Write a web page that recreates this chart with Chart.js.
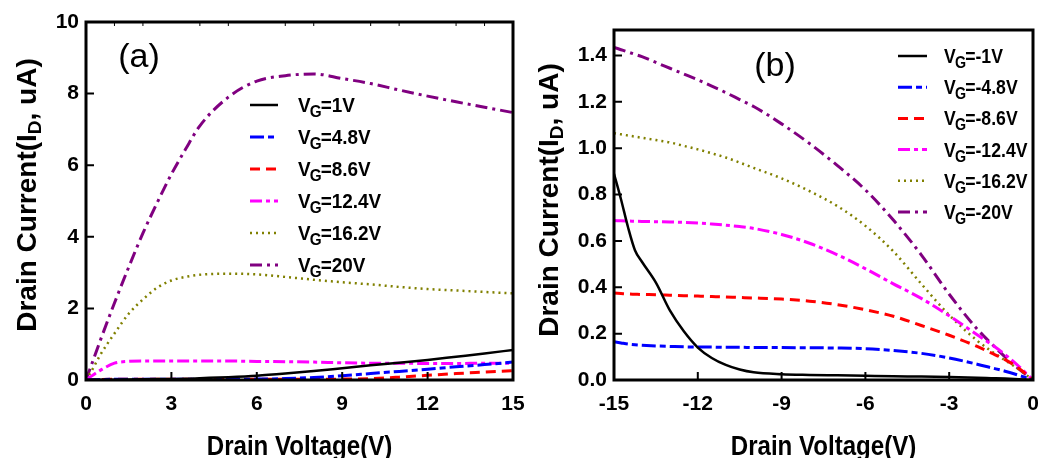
<!DOCTYPE html>
<html>
<head>
<meta charset="utf-8">
<script src="https://cdn.jsdelivr.net/npm/chart.js@4.4.0/dist/chart.umd.min.js"></script>
<style>
	body { margin: 0; background: #fff; }
	#wrap { position: relative; width: 1038px; height: 458px; overflow: hidden; }
	#chartA { position: absolute; left: 0; top: 0; }
	#chartB { position: absolute; left: 520px; top: 0; }
</style>
</head>
<body>
<div id="wrap">
	<canvas id="chartA" width="545" height="458"></canvas>
	<canvas id="chartB" width="518" height="458"></canvas>
</div>
<script>
// panel (a): drain voltage (V) and drain current (uA) for each gate voltage
var drainA = [0, 0.25, 0.5, 1, 1.5, 2, 2.5, 3, 3.5, 4, 5, 6, 7, 8, 9, 10, 11, 12, 13, 14, 15];
var idA_1 = [0, 0.005, 0.008, 0.01, 0.015, 0.02, 0.025, 0.03, 0.035, 0.05, 0.08, 0.12, 0.18, 0.25, 0.33, 0.41, 0.48, 0.56, 0.65, 0.74, 0.84];
var idA_4_8 = [0, 0.01, 0.015, 0.02, 0.02, 0.02, 0.02, 0.02, 0.02, 0.02, 0.02, 0.025, 0.04, 0.07, 0.12, 0.18, 0.24, 0.3, 0.37, 0.43, 0.5];
var idA_8_6 = [0, 0.01, 0.015, 0.02, 0.02, 0.02, 0.02, 0.02, 0.02, 0.02, 0.02, 0.02, 0.02, 0.02, 0.025, 0.04, 0.08, 0.13, 0.18, 0.22, 0.26];
var idA_12_4 = [0, 0.14, 0.27, 0.47, 0.52, 0.53, 0.53, 0.53, 0.53, 0.53, 0.53, 0.52, 0.51, 0.5, 0.48, 0.47, 0.47, 0.46, 0.46, 0.47, 0.47];
var idA_16_2 = [0, 0.33, 0.7, 1.3, 1.85, 2.25, 2.58, 2.78, 2.88, 2.94, 2.97, 2.95, 2.88, 2.8, 2.73, 2.67, 2.6, 2.54, 2.5, 2.46, 2.42];
var idA_20 = [0, 0.55, 1.1, 2.15, 3.15, 4.1, 4.95, 5.75, 6.45, 7.1, 7.9, 8.35, 8.5, 8.55, 8.42, 8.28, 8.1, 7.93, 7.77, 7.62, 7.47];
var gateA = ['1V', '4.8V', '8.6V', '12.4V', '16.2V', '20V'];

// panel (b): negative drain voltages
var drainB = [-15, -14.75, -14.5, -14.25, -14, -13.5, -13, -12.5, -12, -11.5, -11, -10.5, -10, -9, -8, -7, -6, -5, -4, -3, -2, -1.5, -1, -0.5, 0];
var idB_1 = [0.89, 0.78, 0.66, 0.56, 0.51, 0.42, 0.3, 0.21, 0.14, 0.095, 0.065, 0.045, 0.033, 0.025, 0.022, 0.02, 0.018, 0.016, 0.015, 0.013, 0.01, 0.008, 0.006, 0.003, 0];
var idB_4_8 = [0.165, 0.16, 0.155, 0.152, 0.15, 0.147, 0.145, 0.143, 0.142, 0.142, 0.141, 0.141, 0.14, 0.14, 0.139, 0.138, 0.135, 0.127, 0.115, 0.095, 0.068, 0.053, 0.038, 0.02, 0];
var idB_8_6 = [0.375, 0.373, 0.371, 0.37, 0.369, 0.368, 0.366, 0.364, 0.362, 0.36, 0.358, 0.356, 0.354, 0.349, 0.34, 0.325, 0.303, 0.275, 0.235, 0.193, 0.145, 0.117, 0.088, 0.05, 0];
var idB_12_4 = [0.688, 0.687, 0.686, 0.685, 0.684, 0.683, 0.682, 0.68, 0.677, 0.673, 0.668, 0.662, 0.654, 0.628, 0.59, 0.54, 0.48, 0.415, 0.352, 0.277, 0.195, 0.155, 0.11, 0.058, 0];
var idB_16_2 = [1.065, 1.06, 1.055, 1.05, 1.045, 1.035, 1.025, 1.01, 0.995, 0.978, 0.96, 0.938, 0.915, 0.87, 0.815, 0.75, 0.665, 0.555, 0.415, 0.28, 0.17, 0.125, 0.085, 0.045, 0];
var idB_20 = [1.435, 1.425, 1.415, 1.405, 1.395, 1.37, 1.345, 1.32, 1.295, 1.268, 1.24, 1.21, 1.18, 1.105, 1.02, 0.925, 0.82, 0.69, 0.54, 0.37, 0.22, 0.158, 0.1, 0.047, 0];
var gateB = ['-1V', '-4.8V', '-8.6V', '-12.4V', '-16.2V', '-20V'];

var styles = [
	{ color: '#000000', width: 2.5, dash: [] },
	{ color: '#0000ff', width: 3, dash: [14, 4, 6, 4] },
	{ color: '#ff0000', width: 3, dash: [10, 6] },
	{ color: '#ff00ff', width: 3, dash: [12, 4, 4, 4] },
	{ color: '#808000', width: 2.5, dash: [2, 4] },
	{ color: '#800080', width: 3, dash: [12, 5, 3, 5] }
];

var FONT = '"Liberation Sans", Arial, sans-serif';

var panelPlugin = {
	id: 'panel',
	afterDraw: function (chart, args, o) {
		var ctx = chart.ctx, a = chart.chartArea;
		var xs = chart.scales.x, ys = chart.scales.y;
		ctx.save();
		ctx.strokeStyle = '#000';
		ctx.fillStyle = '#000';

		// inward ticks
		ctx.lineWidth = 2;
		ctx.beginPath();
		xs.ticks.forEach(function (t) {
			var px = xs.getPixelForValue(t.value);
			ctx.moveTo(px, a.bottom); ctx.lineTo(px, a.bottom - 8);
		});
		ys.ticks.forEach(function (t) {
			var py = ys.getPixelForValue(t.value);
			ctx.moveTo(a.left, py); ctx.lineTo(a.left + 8, py);
		});
		ctx.stroke();
		if (o.topMinor) {
			ctx.lineWidth = 1;
			ctx.beginPath();
			for (var v = xs.min + 1; v < xs.max; v++) {
				if (v % 3 === 0) continue;
				var px = xs.getPixelForValue(v);
				ctx.moveTo(px, a.top); ctx.lineTo(px, a.top + 4);
			}
			ctx.stroke();
		}

		// frame
		ctx.lineWidth = 3;
		ctx.strokeRect(a.left, a.top, a.right - a.left, a.bottom - a.top);

		// panel label
		ctx.font = '34px ' + FONT;
		ctx.textAlign = 'center';
		ctx.textBaseline = 'middle';
		ctx.fillText(o.label, o.labelX, o.labelY);

		// x title
		ctx.font = 'bold 28px ' + FONT;
		ctx.textBaseline = 'alphabetic';
		ctx.save();
		ctx.translate((a.left + a.right) / 2, o.xTitleY);
		ctx.scale(0.86, 1);
		ctx.fillText('Drain Voltage(V)', 0, 0);
		ctx.restore();

		// y title with subscript
		ctx.save();
		ctx.translate(o.yTitleX, o.yTitleY);
		ctx.rotate(-Math.PI / 2);
		ctx.textAlign = 'left';
		var big = 'bold 28px ' + FONT, small = 'bold 19px ' + FONT;
		ctx.font = big;
		var w1 = ctx.measureText('Drain Current(I').width;
		var w3 = ctx.measureText(', uA)').width;
		ctx.font = small;
		var w2 = ctx.measureText('D').width;
		var x0 = -(w1 + w2 + w3) / 2;
		ctx.font = big;
		ctx.fillText('Drain Current(I', x0, 0);
		ctx.font = small;
		ctx.fillText('D', x0 + w1, 5);
		ctx.font = big;
		ctx.fillText(', uA)', x0 + w1 + w2, 0);
		ctx.restore();

		// legend
		chart.data.datasets.forEach(function (ds, i) {
			var y = o.legY + i * o.legStep;
			ctx.lineWidth = ds.borderWidth;
			ctx.strokeStyle = ds.borderColor;
			ctx.setLineDash(ds.borderDash);
			ctx.beginPath();
			ctx.moveTo(o.legX0, y); ctx.lineTo(o.legX1, y);
			ctx.stroke();
			ctx.setLineDash([]);
			ctx.save();
			ctx.translate(o.legTx, 0);
			ctx.scale(o.legScale, 1);
			ctx.textAlign = 'left';
			ctx.textBaseline = 'alphabetic';
			var tx = 0;
			ctx.font = 'bold 21px ' + FONT;
			ctx.fillText('V', tx, y + 7);
			tx += ctx.measureText('V').width - 1;
			ctx.font = 'bold 17px ' + FONT;
			ctx.fillText('G', tx, y + 12);
			tx += ctx.measureText('G').width - 1;
			ctx.font = 'bold 21px ' + FONT;
			ctx.fillText('=' + ds.label, tx, y + 7);
			ctx.restore();
		});
		ctx.restore();
	}
};

function makeDatasets(volts, series, names) {
	return series.map(function (vals, i) {
		return {
			label: names[i],
			data: volts.map(function (v, j) { return { x: v, y: vals[j] }; }),
			borderColor: styles[i].color,
			borderWidth: styles[i].width,
			borderDash: styles[i].dash,
			pointRadius: 0,
			fill: false,
			cubicInterpolationMode: 'monotone'
		};
	});
}

function tickFont() {
	return { family: FONT, size: 21, weight: 'bold' };
}

function makeChart(id, datasets, xr, yr, pad, yWidth, panel) {
	var ctx = document.getElementById(id).getContext('2d');
	return new Chart(ctx, {
		type: 'line',
		data: { datasets: datasets },
		options: {
			responsive: false,
			animation: false,
			layout: { padding: pad },
			plugins: { legend: { display: false }, tooltip: { enabled: false }, panel: panel },
			scales: {
				x: {
					type: 'linear', min: xr[0], max: xr[1],
					grid: { display: false, drawTicks: false }, border: { display: false },
					ticks: { stepSize: xr[2], padding: 12, color: '#000', font: tickFont(), maxRotation: 0, autoSkip: false,
						callback: function (v) { return String(v); } },
					afterFit: function (s) { s.height = 78; s.paddingLeft = 0; s.paddingRight = 0; }
				},
				y: {
					type: 'linear', min: yr[0], max: yr[1],
					grid: { display: false, drawTicks: false }, border: { display: false },
					ticks: { stepSize: yr[2], padding: 7, color: '#000', font: tickFont(), includeBounds: false,
						callback: function (v) { return yr[3] ? v.toFixed(yr[3]) : String(v); } },
					afterFit: function (s) { s.width = yWidth; s.paddingTop = 0; s.paddingBottom = 0; }
				}
			}
		},
		plugins: [panelPlugin]
	});
}

window.onload = function () {
	makeChart('chartA',
		makeDatasets(drainA, [idA_1, idA_4_8, idA_8_6, idA_12_4, idA_16_2, idA_20], gateA),
		[0, 15, 3], [0, 10, 2, 0],
		{ left: 0, top: 22, right: 32, bottom: 0 }, 86,
		{ label: '(a)', labelX: 139, labelY: 58, xTitleY: 455, yTitleX: 36, yTitleY: 195,
			legY: 105, legStep: 32, legX0: 250, legX1: 278, legTx: 298, legScale: 0.9, topMinor: true });

	makeChart('chartB',
		makeDatasets(drainB, [idB_1, idB_4_8, idB_8_6, idB_12_4, idB_16_2, idB_20], gateB),
		[-15, 0, 3], [0, 1.51, 0.2, 1],
		{ left: 0, top: 30, right: 5, bottom: 0 }, 94,
		{ label: '(b)', labelX: 255, labelY: 67, xTitleY: 455, yTitleX: 38, yTitleY: 200,
			legY: 56, legStep: 31.2, legX0: 378, legX1: 407, legTx: 424, legScale: 0.84, topMinor: false });
};
</script>
</body>
</html>
